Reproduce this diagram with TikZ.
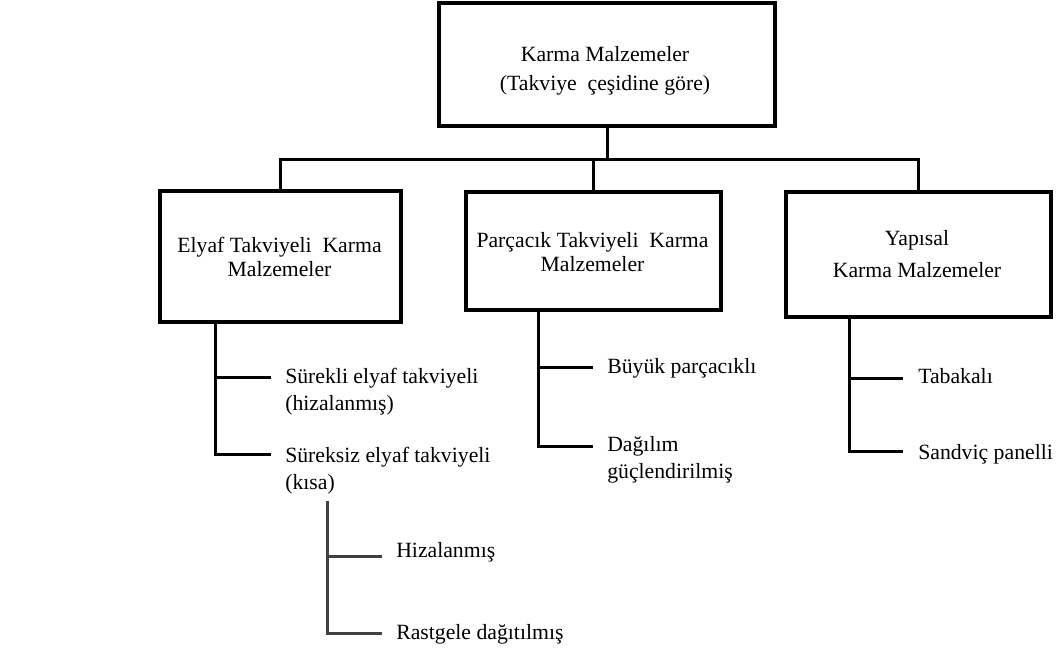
\documentclass[tikz,border=0pt]{standalone}
\usepackage{fontspec}
\setmainfont{Liberation Serif}
\newcommand{\blk}[3]{{\fontsize{16.3}{#1}\selectfont\begin{tabular}[t]{@{}#2@{}}#3\end{tabular}}}
\begin{document}
\begin{tikzpicture}[x=0.75pt,y=-0.75pt,
  boxnode/.style={draw=black, line width=2.4pt, rectangle, inner sep=0pt},
  txt/.style={inner sep=0pt, font=\fontsize{16.3}{20}\selectfont},
  conn/.style={draw=black, line width=2.25pt, line join=miter},
  subconn/.style={draw=black!75, line width=2.25pt, line join=miter}]
\useasboundingbox (0,0) rectangle (1060,664);

% boxes
\node[boxnode, minimum width=252pt, minimum height=92.25pt] (top) at (607,64.5) {};
\node[boxnode, minimum width=180.75pt, minimum height=98.25pt] (left) at (280.5,256.5) {};
\node[boxnode, minimum width=191.25pt, minimum height=88.5pt] (mid) at (593.5,251) {};
\node[boxnode, minimum width=198.75pt, minimum height=93.75pt] (right) at (918.5,254.5) {};

% box texts
\node[txt, anchor=base] (toptxt) at (605,61.5) {\blk{21.4pt}{c}{Karma Malzemeler\\(Takviye\ \ çeşidine göre)}};
\node[txt, anchor=base] (lefttxt) at (279.5,252) {\blk{18pt}{c}{Elyaf Takviyeli\ \ Karma\\Malzemeler}};
\node[txt, anchor=base] (midtxt) at (592.5,247) {\blk{18pt}{c}{Parçacık Takviyeli\ \ Karma\\Malzemeler}};
\node[txt, anchor=base] (righttxt) at (917,245) {\blk{24pt}{c}{Yapısal\\Karma Malzemeler}};

% top connectors
\coordinate (bar) at (607,159);
\draw[conn] (top.south) -- (bar);
\draw[conn] (left.north) -- (left.north |- bar) -- (right.north |- bar) -- (right.north);
\draw[conn] (mid.north) -- (mid.north |- bar);

% left tree
\node[txt, anchor=base west] (l1) at (285,383) {\blk{20.25pt}{l}{Sürekli\ elyaf takviyeli\\(hizalanmış)}};
\node[txt, anchor=base west] (l2) at (285,462) {\blk{20.25pt}{l}{Süreksiz elyaf takviyeli\\(kısa)}};
\coordinate (lj1) at (215,377);
\coordinate (lj2) at (215,454);
\coordinate (le1) at (271,377);
\coordinate (le2) at (271,454);
\draw[conn] (left.south -| lj1) -- (lj2) -- (le2);
\draw[conn] (lj1) -- (le1);

% sub tree
\node[txt, anchor=base west] (s1) at (396,557) {Hizalanmış};
\node[txt, anchor=base west] (s2) at (396,639) {Rastgele dağıtılmış};
\coordinate (sv) at (327,501);
\coordinate (sj1) at (327,556);
\coordinate (sj2) at (327,633);
\coordinate (se1) at (382,556);
\coordinate (se2) at (382,633);
\draw[subconn] (sv) -- (sj2) -- (se2);
\draw[subconn] (sj1) -- (se1);

% middle tree
\node[txt, anchor=base west] (m1) at (607,373) {Büyük parçacıklı};
\node[txt, anchor=base west] (m2) at (607,451) {\blk{20.25pt}{l}{Dağılım\\güçlendirilmiş}};
\coordinate (mj1) at (538,367);
\coordinate (mj2) at (538,446);
\coordinate (me1) at (593,367);
\coordinate (me2) at (593,446);
\draw[conn] (mid.south -| mj1) -- (mj2) -- (me2);
\draw[conn] (mj1) -- (me1);

% right tree
\node[txt, anchor=base west] (r1) at (918,383) {Tabakalı};
\node[txt, anchor=base west] (r2) at (918,459) {Sandviç panelli};
\coordinate (rj1) at (849,378);
\coordinate (rj2) at (849,451);
\coordinate (re1) at (903,378);
\coordinate (re2) at (903,451);
\draw[conn] (right.south -| rj1) -- (rj2) -- (re2);
\draw[conn] (rj1) -- (re1);
\end{tikzpicture}
\end{document}
